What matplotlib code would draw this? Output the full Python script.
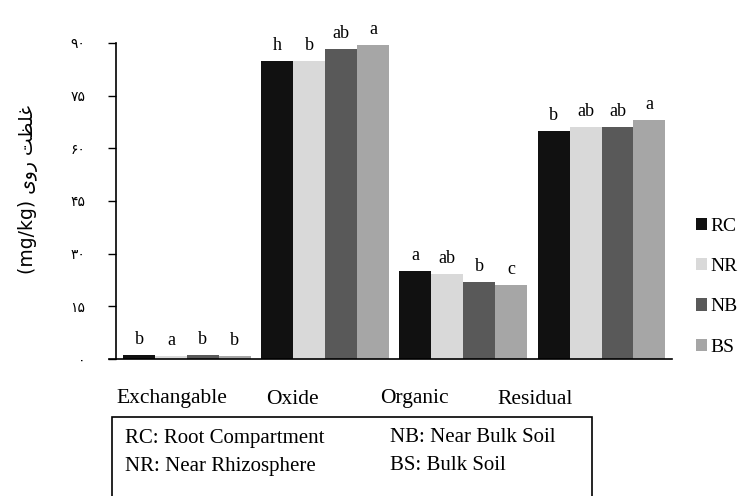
import matplotlib.pyplot as plt
import matplotlib.patches as mpatches
import numpy as np

# داده ها
categories = ['Exchangable', 'Oxide', 'Organic', 'Residual']
series = ['RC', 'NR', 'NB', 'BS']
rc = [1.0, 84.8, 25.1, 64.9]
nr = [0.9, 84.8, 24.1, 66.0]
nb = [1.0, 88.2, 21.9, 66.0]
bs = [0.9, 89.3, 21.2, 68.2]
rc_letters = ['b', 'h', 'a', 'b']
nr_letters = ['a', 'b', 'ab', 'ab']
nb_letters = ['b', 'ab', 'b', 'ab']
bs_letters = ['b', 'a', 'c', 'a']
yticks = [0, 15, 30, 45, 60, 75, 90]
ytick_labels = ['۰', '۱۵', '۳۰', '۴۵', '۶۰', '۷۵', '۹۰']
notes = [['RC: Root Compartment', 'NR: Near Rhizosphere'],
         ['NB: Near Bulk Soil', 'BS: Bulk Soil']]

colors = ['#111111', '#d9d9d9', '#595959', '#a6a6a6']
values = [rc, nr, nb, bs]
letters = [rc_letters, nr_letters, nb_letters, bs_letters]

W, H = 744, 496
fig = plt.figure(figsize=(W / 100, H / 100), dpi=100)
ax = fig.add_axes([116 / W, 1 - 359 / H, (672 - 116) / W, (359 - 43) / H])

x = np.arange(len(categories))
bw = 0.231
for i, (vals, lets) in enumerate(zip(values, letters)):
    pos = x + (i - 1.5) * bw
    ax.bar(pos, vals, bw, color=colors[i], label=series[i], edgecolor='none')
    for p, v, t in zip(pos, vals, lets):
        ax.text(p, v + 2.0, t, ha='center', va='bottom', fontsize=13,
                family='Liberation Serif')

ax.set_xlim(-0.513, 3.51)
ax.set_ylim(0, 90)
ax.set_xticks([])
ax.set_yticks(yticks)
ax.set_yticklabels(ytick_labels, family=['DejaVu Sans', 'Noto Sans'], fontsize=10)
ax.tick_params(axis='y', length=6, width=1, pad=16)
for s in ['top', 'right']:
    ax.spines[s].set_visible(False)
ax.spines['bottom'].set_bounds(-0.566, 3.51)
ax.spines['left'].set_linewidth(1.2)
ax.spines['bottom'].set_linewidth(1.2)

# برچسب محور عمودی (شکل دهی دستی حروف فارسی)
ylab = '(mg/kg) ' + '\uFBFC\uFEED\uFEAD' + ' ' + '\uFE96\uFEC8\uFEE0\uFECF'
fig.text(28 / W, 1 - 190 / H, ylab, rotation=90, ha='center', va='center',
         fontsize=13.5, family=['DejaVu Sans'])

# نام دسته ها
label_x = [172, 292, 414, 535]
for lx, name in zip(label_x, categories):
    fig.text(lx / W, 1 - 399 / H, name, ha='center', va='center', fontsize=15.5,
             family='Liberation Serif')

# کادر توضیحات
box = mpatches.Rectangle((112 / W, 1 - 505 / H), (592 - 112) / W, (505 - 417) / H,
                         transform=fig.transFigure, fill=False, lw=1.2,
                         edgecolor='black')
fig.patches.append(box)
col_x = [125, 390]
row_y = [438, 466]
for cx, col in zip(col_x, notes):
    for ry, t in zip(row_y, col):
        fig.text(cx / W, 1 - ry / H, t, ha='left', va='center', fontsize=15,
                 family='Liberation Serif')

fig.legend(loc='upper left', bbox_to_anchor=(678 / W, 1 - 200 / H), frameon=False,
           prop={'family': 'Liberation Serif', 'size': 14}, handlelength=0.6,
           handleheight=0.6, handletextpad=0.15, labelspacing=1.2)

plt.savefig('out.png', dpi=100)
